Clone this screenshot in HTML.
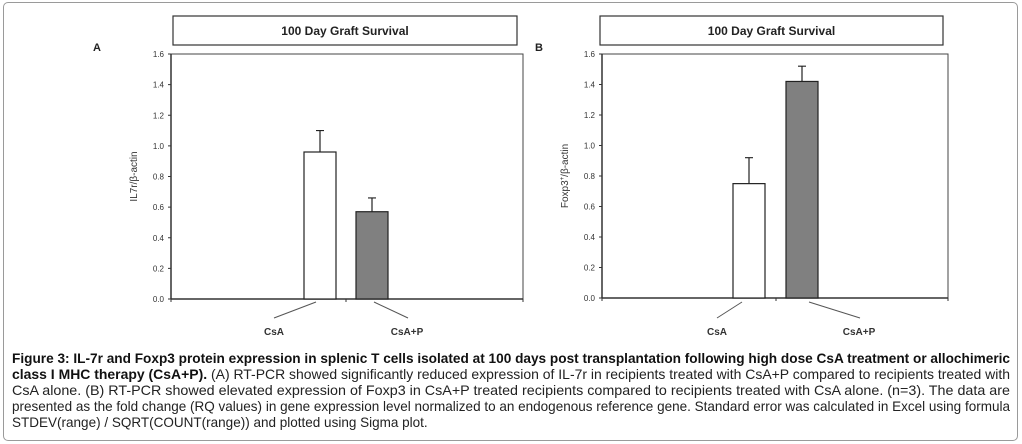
<!DOCTYPE html>
<html><head><meta charset="utf-8"><style>
html,body{margin:0;padding:0;background:#fff;}
body{width:1022px;height:444px;position:relative;overflow:hidden;font-family:"Liberation Sans",sans-serif;}
#frame{position:absolute;left:3px;top:2px;width:1013px;height:437px;border:1px solid #9a9a9a;border-radius:5px;}
#caption{position:absolute;left:12px;top:350px;width:998px;font-size:14px;color:#222;}
.ln{height:16px;line-height:16px;white-space:nowrap;}
.ln span{display:inline-block;transform-origin:0 0;white-space:nowrap;}
b{color:#111;}
</style></head><body>
<div id="frame"></div>
<svg id="chart" width="1022" height="345" style="position:absolute;left:0;top:0"></svg>
<div id="caption">
<div class="ln"><span><b>Figure 3: IL-7r and Foxp3 protein expression in splenic T cells isolated at 100 days post transplantation following high dose CsA treatment or allochimeric</b></span></div>
<div class="ln"><span><b>class I MHC therapy (CsA+P).</b> (A) RT-PCR showed significantly reduced expression of IL-7r in recipients treated with CsA+P compared to recipients treated with</span></div>
<div class="ln"><span>CsA alone. (B) RT-PCR showed elevated expression of Foxp3 in CsA+P treated recipients compared to recipients treated with CsA alone. (n=3). The data are</span></div>
<div class="ln"><span>presented as the fold change (RQ values) in gene expression level normalized to an endogenous reference gene. Standard error was calculated in Excel using formula</span></div>
<div class="ln last"><span>STDEV(range) / SQRT(COUNT(range)) and plotted using Sigma plot.</span></div>
</div>
<script>
const categories = ["CsA", "CsA+P"];
const valuesA = [0.96, 0.57];
const errorsA = [0.14, 0.09];
const valuesB = [0.75, 1.42];
const errorsB = [0.17, 0.10];
const yTicks = ["0.0","0.2","0.4","0.6","0.8","1.0","1.2","1.4","1.6"];
const yMax = 1.6;

const NS = "http://www.w3.org/2000/svg";
const svg = document.getElementById("chart");
function mk(tag, attrs, parent) {
  const e = document.createElementNS(NS, tag);
  for (const k in attrs) e.setAttribute(k, attrs[k]);
  (parent || svg).appendChild(e);
  return e;
}
const fills = ["#ffffff", "#808080"];

function panel(cfg, values, errors) {
  const g = mk("g", {});
  
  
  const y = v => cfg.y0 - (v / yMax) * (cfg.y0 - cfg.yTop);
  const tb = mk("rect", {x: cfg.tx0, y: 16, width: cfg.tx1 - cfg.tx0, height: 29, fill: "#fff", stroke: "#333", "stroke-width": 1.2}, g);
  
  
  const tt = mk("text", {x: (cfg.tx0 + cfg.tx1) / 2, y: 35, "text-anchor": "middle", "font-size": 12, "font-weight": "bold", fill: "#222"}, g);
  tt.textContent = "100 Day Graft Survival";
  
  
  const pl = mk("text", {x: cfg.lx, y: 51, "font-size": 11, "font-weight": "bold", fill: "#222"}, g);
  pl.textContent = cfg.letter;
  
  
  const pb = mk("rect", {x: cfg.x0, y: cfg.yTop, width: cfg.x1 - cfg.x0, height: cfg.y0 - cfg.yTop, fill: "none", stroke: "#444", "stroke-width": 1}, g);
  
  
  mk("line", {x1: cfg.x0, y1: cfg.y0, x2: cfg.x1, y2: cfg.y0, stroke: "#333", "stroke-width": 1.5}, g);
  mk("line", {x1: cfg.x0, y1: cfg.yTop, x2: cfg.x0, y2: cfg.y0, stroke: "#333", "stroke-width": 1.5}, g);
  yTicks.forEach(t => {
    const yy = y(parseFloat(t));
    mk("line", {x1: cfg.x0 - 3, y1: yy, x2: cfg.x0, y2: yy, stroke: "#333"}, g);
    const tx = mk("text", {x: cfg.x0 - 7, y: yy + 3, "text-anchor": "end", "font-size": 8, fill: "#333"}, g);
    tx.textContent = t;
    
    
  });
  [cfg.x0, cfg.xMid, cfg.x1].forEach(xx => mk("line", {x1: xx, y1: cfg.y0, x2: xx, y2: cfg.y0 + 3, stroke: "#333"}, g));
  const yl = mk("text", {x: 0, y: 0, transform: `translate(${cfg.x0 - 34},${(cfg.yTop + cfg.y0) / 2}) rotate(-90)`, "text-anchor": "middle", "font-size": 10, fill: "#333"}, g);
  yl.innerHTML = cfg.ylabel;
  
  
  values.forEach((v, i) => {
    const bx = cfg.barX[i];
    const top = y(v), et = y(v + errors[i]);
    const r = mk("rect", {x: bx, y: top, width: 32, height: cfg.y0 - top, fill: fills[i], stroke: "#222", "stroke-width": 1.2}, g);
    
    
    const cx = bx + 16;
    const eb = mk("path", {d: `M${cx},${top}V${et}M${cx - 4},${et}H${cx + 4}`, stroke: "#222", "stroke-width": 1.2, fill: "none"}, g);
    
    
    const ll = cfg.leaders[i];
    mk("line", {x1: ll[0], y1: 302, x2: ll[1], y2: 318, stroke: "#555"}, g);
    const cl = mk("text", {x: ll[2], y: 335, "text-anchor": "middle", "font-size": 10, "font-weight": "bold", fill: "#333"}, g);
    cl.textContent = categories[i];
    
    
  });
}
panel({name: "panel-a-chart", letter: "A", lx: 93, tx0: 173, tx1: 517, x0: 171, x1: 523, xMid: 346, yTop: 54, y0: 299,
  barX: [304, 356], leaders: [[316, 274, 274], [374, 408, 407]], ylabel: "IL7r/β-actin"}, valuesA, errorsA);
panel({name: "panel-b-chart", letter: "B", lx: 535, tx0: 600, tx1: 943, x0: 602, x1: 948, xMid: 776, yTop: 54, y0: 298,
  barX: [733, 786], leaders: [[742, 717, 717], [809, 860, 859]], ylabel: "Foxp3<tspan dy='-4' font-size='6'>+</tspan><tspan dy='4'>/β-actin</tspan>"}, valuesB, errorsB);

const spans = document.querySelectorAll('#caption .ln span');
let lastScale = 0.9;
spans.forEach(s => {
  const w = s.getBoundingClientRect().width;
  if (!s.parentNode.classList.contains('last')) {
    lastScale = 998 / w;
  }
  s.style.transform = `scaleX(${lastScale})`;
});
</script>
</body></html>
